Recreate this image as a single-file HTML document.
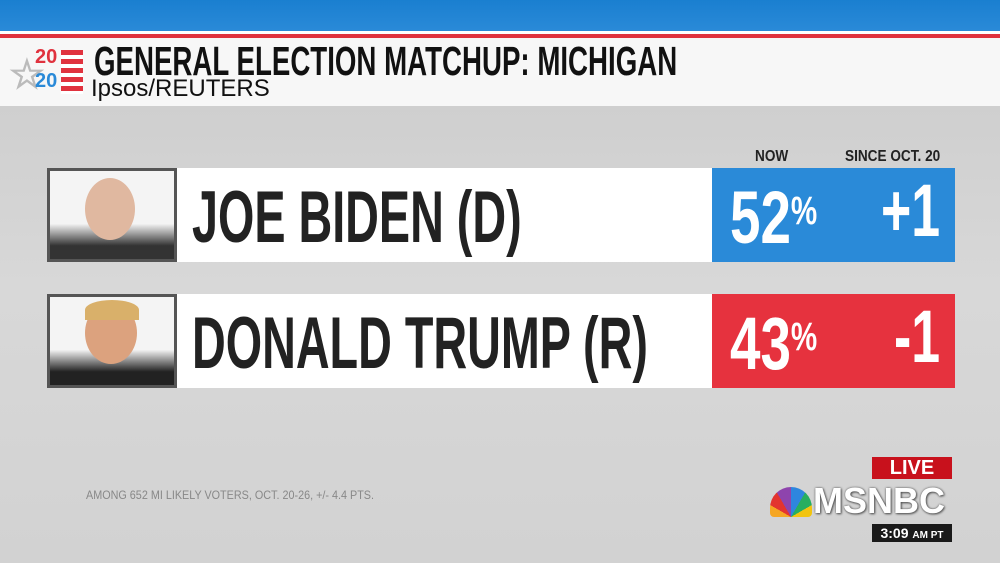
<!DOCTYPE html>
<html><head><style>
*{margin:0;padding:0;box-sizing:border-box}
body{width:1000px;height:563px;overflow:hidden;background:#d3d3d3;font-family:"Liberation Sans",sans-serif;position:relative}
.a{position:absolute;white-space:nowrap}
.b{font-weight:bold}
.n{transform-origin:0 0}
</style></head><body>
<div class="a" style="left:0;top:0;width:1000px;height:31px;background:linear-gradient(#1a7fd0,#2a8ad8)"></div>
<div class="a" style="left:0;top:31px;width:1000px;height:3px;background:#fff"></div>
<div class="a" style="left:0;top:34px;width:1000px;height:4px;background:#e0323e"></div>
<div class="a" style="left:0;top:38px;width:1000px;height:68px;background:#f7f7f7"></div>
<div class="a" style="left:0;top:106px;width:1000px;height:457px;background:linear-gradient(#cfcfcf,#d8d8d8 40%,#d2d2d2)"></div>
<div class="a b" style="left:9px;top:52px;font-size:40px;color:#bbb">☆</div>
<div class="a b" style="left:35px;top:47px;font-size:20px;color:#e0323e;line-height:20px">20</div>
<div class="a b" style="left:35px;top:71px;font-size:20px;color:#2a8ad8;line-height:20px">20</div>
<div class="a" style="left:61px;top:50px;width:22px;height:44px;background:repeating-linear-gradient(#e0323e 0 5px,#fff 5px 9px)"></div>
<div class="a b n" style="left:94px;top:38px;font-size:41px;color:#111;transform:scaleX(0.675)">GENERAL ELECTION MATCHUP: MICHIGAN</div>
<div class="a" style="left:91px;top:75px;font-size:24px;color:#111">Ipsos/REUTERS</div>
<div class="a b n" style="left:755px;top:148px;font-size:16px;color:#222;transform:scaleX(0.85)">NOW</div>
<div class="a b n" style="left:845px;top:148px;font-size:16px;color:#222;transform:scaleX(0.85)">SINCE OCT. 20</div>

<div class="a" style="left:47px;top:168px;width:665px;height:94px;background:#fff"></div>
<div class="a" style="left:47px;top:168px;width:130px;height:94px;border:3px solid #555;background:linear-gradient(#f4f4f4 60%,#333 85%)"></div>
<div class="a" style="left:85px;top:178px;width:50px;height:62px;border-radius:50%;background:#e0b8a0"></div>
<div class="a b n" style="left:192px;top:176px;font-size:73px;color:#222;line-height:84px;transform:scaleX(0.64)">JOE BIDEN (D)</div>
<div class="a" style="left:712px;top:168px;width:243px;height:94px;background:#2a8ad8"></div>
<div class="a b n" style="left:730px;top:169px;font-size:74px;color:#fff;line-height:84px;transform:scaleX(0.74)">52<span style="font-size:40px;vertical-align:19px">%</span></div>
<div class="a b n" style="left:881px;top:169px;font-size:74px;color:#fff;line-height:84px;transform:scaleX(0.70)">+1</div>

<div class="a" style="left:47px;top:294px;width:665px;height:94px;background:#fff"></div>
<div class="a" style="left:47px;top:294px;width:130px;height:94px;border:3px solid #555;background:linear-gradient(#f4f4f4 60%,#222 85%)"></div>
<div class="a" style="left:85px;top:302px;width:52px;height:62px;border-radius:50%;background:#dca27e"></div>
<div class="a" style="left:85px;top:300px;width:54px;height:20px;border-radius:50% 50% 0 0;background:#d9b06a"></div>
<div class="a b n" style="left:192px;top:302px;font-size:73px;color:#222;line-height:84px;transform:scaleX(0.64)">DONALD TRUMP (R)</div>
<div class="a" style="left:712px;top:294px;width:243px;height:94px;background:#e6323e"></div>
<div class="a b n" style="left:730px;top:295px;font-size:74px;color:#fff;line-height:84px;transform:scaleX(0.74)">43<span style="font-size:40px;vertical-align:19px">%</span></div>
<div class="a b n" style="left:894px;top:295px;font-size:74px;color:#fff;line-height:84px;transform:scaleX(0.70)">-1</div>

<div class="a n" style="left:86px;top:488px;font-size:12px;color:#888;transform:scaleX(0.9)">AMONG 652 MI LIKELY VOTERS, OCT. 20-26, +/- 4.4 PTS.</div>

<div class="a b" style="left:872px;top:457px;width:80px;height:22px;background:#c8111c;color:#fff;font-size:20px;text-align:center;line-height:22px">LIVE</div>
<div class="a" style="left:770px;top:487px;width:42px;height:30px;border-radius:21px 21px 4px 4px;background:conic-gradient(from -90deg at 50% 100%,#f5a623 0 30deg,#e3342f 30deg 60deg,#8e44ad 60deg 90deg,#2e86de 90deg 120deg,#27ae60 120deg 150deg,#f1c40f 150deg 180deg,transparent 180deg)"></div>
<div class="a b" style="left:813px;top:480px;font-size:36px;color:#fff;text-shadow:0 0 2px #555,1px 1px 2px #555">MSNBC</div>
<div class="a b" style="left:872px;top:524px;width:80px;height:18px;background:#1a1a1a;color:#fff;font-size:14px;text-align:center;line-height:18px">3:09 <span style="font-size:10px">AM PT</span></div>
</body></html>
